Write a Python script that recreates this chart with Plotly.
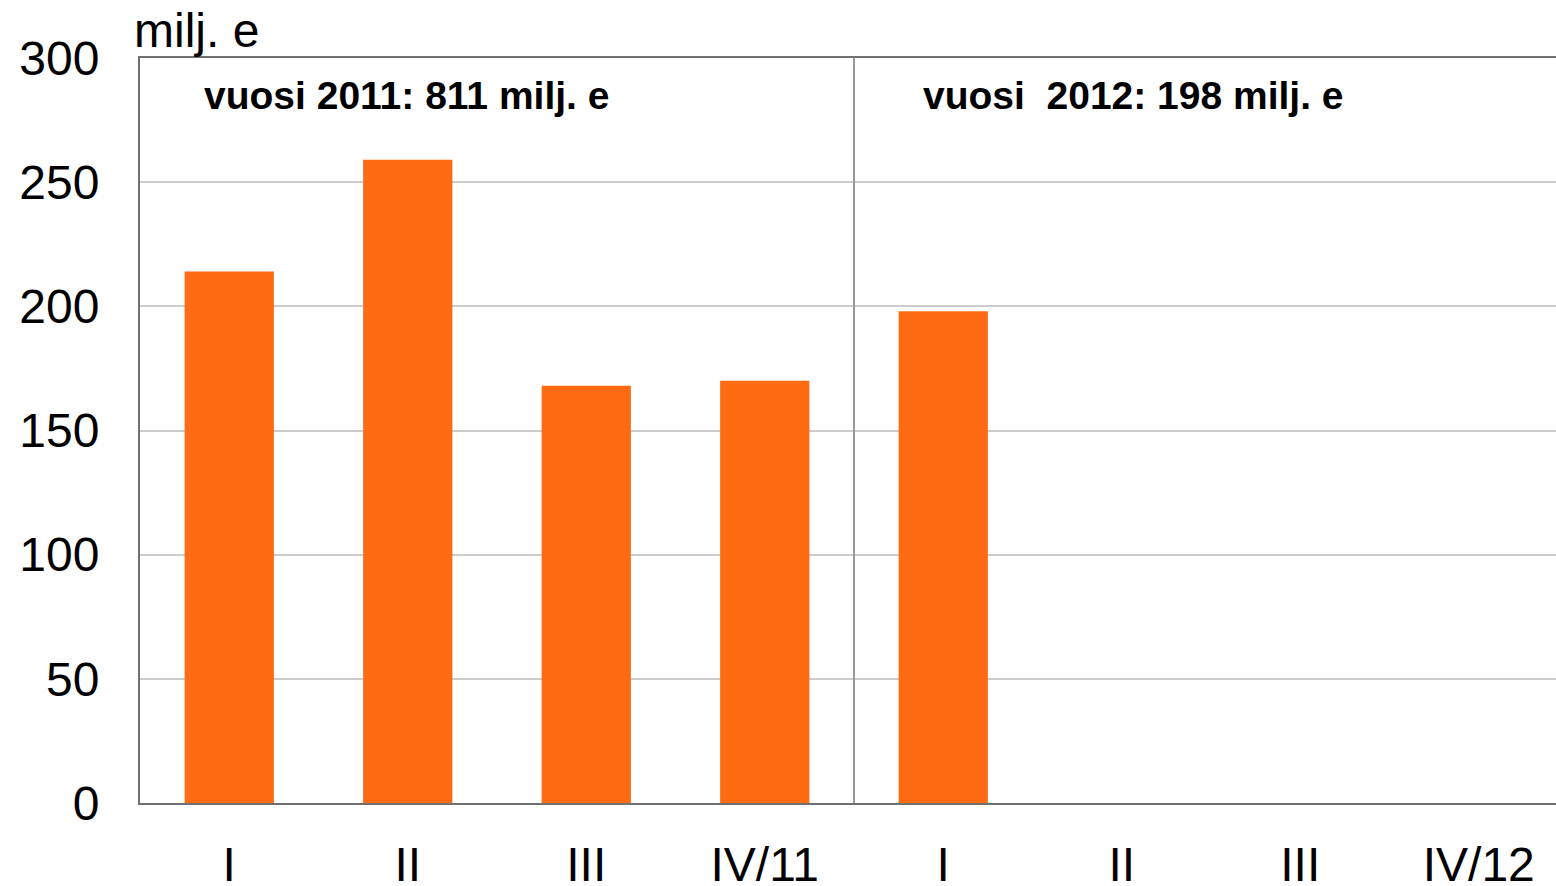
import plotly.graph_objects as go

quarters = ["I", "II", "III", "IV/11", "I", "II", "III", "IV/12"]
values_2011 = [214, 259, 168, 170]
values_2012 = [198]
y_ticks = [0, 50, 100, 150, 200, 250, 300]

n = len(quarters)
vals = values_2011 + values_2012 + [None] * (n - len(values_2011) - len(values_2012))
xs = list(range(n))

fig = go.Figure()
fig.add_trace(go.Bar(x=xs, y=vals, width=0.5, marker=dict(color="#FF6B12", line=dict(width=0)),
                     hoverinfo="x+y"))

font_family = "Liberation Sans, Arial, sans-serif"
fig.update_layout(
    width=1556, height=886,
    margin=dict(l=140, r=0, t=58, b=83, autoexpand=False),
    paper_bgcolor="white", plot_bgcolor="white",
    showlegend=False,
    font=dict(family=font_family, size=48, color="black"),
    xaxis=dict(
        range=[-0.5, n - 0.5 - 12 / 178.5],
        tickvals=xs, ticktext=quarters,
        showgrid=False, zeroline=False, automargin=False,
        showline=True, linecolor="#707070", linewidth=2, mirror=True,
        ticks="", ticklabelstandoff=18,
        tickfont=dict(size=48),
    ),
    yaxis=dict(
        range=[0, 300], tickvals=y_ticks,
        showgrid=True, gridcolor="#CCCCCC", gridwidth=2,
        zeroline=False, automargin=False,
        showline=True, linecolor="#707070", linewidth=2,
        ticks="", ticklabelstandoff=29,
        tickfont=dict(size=48),
    ),
)

sep = len(values_2011) - 0.5
fig.add_shape(type="line", x0=sep, x1=sep, y0=0, y1=300, xref="x", yref="y",
              line=dict(color="#999999", width=2))

fig.add_annotation(text="milj. e", xref="paper", yref="paper", x=-8/1416, y=1,
                   xanchor="left", yanchor="bottom", yshift=-1, showarrow=False,
                   font=dict(size=48, family=font_family))
fig.add_annotation(text=f"<b>vuosi 2011: {sum(values_2011)} milj. e</b>",
                   xref="paper", yref="paper", x=62/1416, y=(803-96)/745,
                   xanchor="left", yanchor="middle", showarrow=False,
                   font=dict(size=39, family=font_family))
fig.add_annotation(text=f"<b>vuosi  2012: {sum(values_2012)} milj. e</b>",
                   xref="paper", yref="paper", x=(921-140)/1416, y=(803-96)/745,
                   xanchor="left", yanchor="middle", showarrow=False,
                   font=dict(size=39, family=font_family))

fig.write_html("out.html", config={"displayModeBar": False},
               post_script="document.body.style.margin='0';document.body.style.overflow='hidden';")
